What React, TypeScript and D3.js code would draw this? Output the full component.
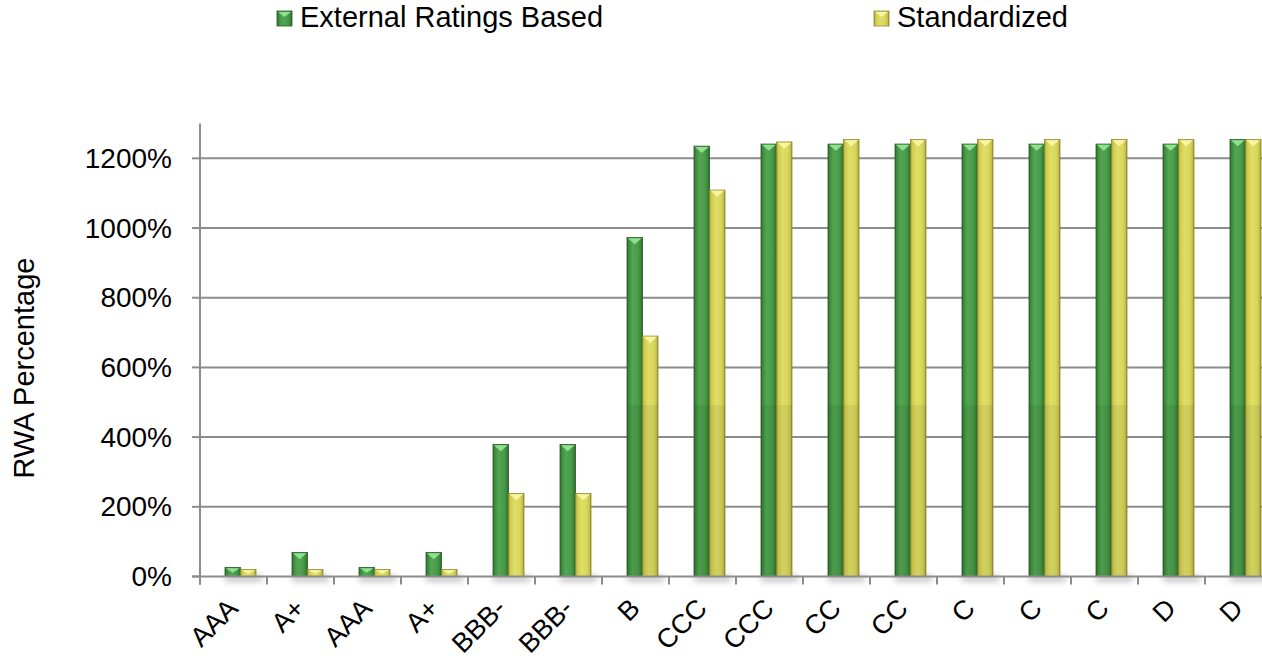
import React from "react";
import * as d3 from "d3";

const categories = ["AAA", "A+", "AAA", "A+", "BBB-", "BBB-", "B", "CCC", "CCC", "CC", "CC", "C", "C", "C", "D", "D"];
const externalRatingsBased = [26, 69, 26, 69, 379, 379, 973, 1235, 1241, 1241, 1241, 1241, 1241, 1241, 1241, 1254];
const standardized = [20, 20, 20, 20, 238, 238, 690, 1109, 1247, 1254, 1254, 1254, 1254, 1254, 1254, 1254];
const yTicks = [0, 200, 400, 600, 800, 1000, 1200];
const seriesNames = ["External Ratings Based", "Standardized"];
const seriesKeys = ["erb", "std"];

const W = 1262;
const H = 659;
const FONT = "'Liberation Sans', Arial, sans-serif";

export default function App() {
  const left = 200;
  const catW = 67;
  const x = d3
    .scaleBand<number>()
    .domain(d3.range(categories.length))
    .range([left, left + catW * categories.length])
    .padding(0);
  const xs = d3.scaleBand<string>().domain(seriesKeys).range([25, 56]).padding(0);
  const y = d3.scaleLinear().domain([0, 1300]).range([576.5, 123.5]);
  const base = y(0);

  const palette: Record<string, { grad: string; tri: string; stroke: string }> = {
    erb: { grad: "url(#gGreen)", tri: "#8fe08f", stroke: "#2a5a2a" },
    std: { grad: "url(#gYellow)", tri: "#f7f5a2", stroke: "#8f8a30" },
  };

  const bars: { key: string; x0: number; w: number; top: number }[] = [];
  categories.forEach((_, i) => {
    [externalRatingsBased[i], standardized[i]].forEach((v, s) => {
      const key = seriesKeys[s];
      bars.push({ key, x0: (x(i) as number) + (xs(key) as number), w: xs.bandwidth(), top: y(v) });
    });
  });

  const split = 405;

  return (
    <svg
      width={W}
      height={H}
      style={{ position: "absolute", left: 0, top: 0, background: "#fff" }}
      fontFamily={FONT}
    >
      <defs>
        <linearGradient id="gGreen" x1="0" x2="1" y1="0" y2="0">
          <stop offset="0%" stopColor="#2c6a2c" />
          <stop offset="12%" stopColor="#3d8c3d" />
          <stop offset="35%" stopColor="#52a652" />
          <stop offset="70%" stopColor="#4a9c4a" />
          <stop offset="90%" stopColor="#3a863a" />
          <stop offset="100%" stopColor="#285a28" />
        </linearGradient>
        <linearGradient id="gYellow" x1="0" x2="1" y1="0" y2="0">
          <stop offset="0%" stopColor="#a39d36" />
          <stop offset="12%" stopColor="#cfcc50" />
          <stop offset="40%" stopColor="#e0de66" />
          <stop offset="75%" stopColor="#d8d65c" />
          <stop offset="90%" stopColor="#c4c04a" />
          <stop offset="100%" stopColor="#948e30" />
        </linearGradient>
        <filter id="blur" x="-50%" y="-200%" width="200%" height="500%">
          <feGaussianBlur stdDeviation="3" />
        </filter>
      </defs>

      {/* legend */}
      {seriesNames.map((name, s) => {
        const lx = s === 0 ? 277 : 874;
        const key = seriesKeys[s];
        return (
          <g key={name}>
            <rect x={lx} y={11} width={15} height={15} fill={palette[key].grad} stroke={palette[key].stroke} strokeWidth={0.8} />
            <polygon points={`${lx + 1},${12} ${lx + 14},${12} ${lx + 7.5},${17}`} fill={palette[key].tri} />
            <text x={lx + 23} y={27} fontSize={29} fill="#000">
              {name}
            </text>
          </g>
        );
      })}

      {/* gridlines */}
      {yTicks.slice(1).map((t) => (
        <line key={t} x1={left} x2={W} y1={y(t)} y2={y(t)} stroke="#8c8c8c" strokeWidth={2} />
      ))}

      {/* shadows */}
      {categories.map((_, i) => (
        <rect
          key={"sh" + i}
          x={(x(i) as number) + 25}
          y={base - 1}
          width={xs.bandwidth() * 2 + 6}
          height={6}
          fill="#000"
          opacity={0.25}
          filter="url(#blur)"
        />
      ))}

      {/* bars */}
      {bars.map((b, i) => {
        const p = palette[b.key];
        const h = base - b.top;
        const triH = Math.min(6, h / 2);
        return (
          <g key={"b" + i}>
            <rect x={b.x0} y={b.top} width={b.w} height={h} fill={p.grad} stroke={p.stroke} strokeWidth={0.8} />
            {b.top < split && (
              <rect x={b.x0} y={split} width={b.w} height={base - split} fill="#000" opacity={0.06} />
            )}
            <polygon
              points={`${b.x0 + 1},${b.top + 0.8} ${b.x0 + b.w - 1},${b.top + 0.8} ${b.x0 + b.w / 2},${b.top + 0.8 + triH}`}
              fill={p.tri}
            />
          </g>
        );
      })}

      {/* axes */}
      <line x1={left} x2={left} y1={y(1300)} y2={base + 8} stroke="#8c8c8c" strokeWidth={2} />
      <line x1={left - 8} x2={W} y1={base} y2={base} stroke="#8c8c8c" strokeWidth={2} />
      {yTicks.map((t) => (
        <g key={"yt" + t}>
          <line x1={left - 8} x2={left} y1={y(t)} y2={y(t)} stroke="#8c8c8c" strokeWidth={2} />
          <text x={172} y={y(t)} dy="0.34em" textAnchor="end" fontSize={28} fill="#000">
            {t}%
          </text>
        </g>
      ))}
      {d3.range(categories.length + 1).map((i) => {
        const xx = left + i * catW;
        return <line key={"xt" + i} x1={xx} x2={xx} y1={base} y2={base + 8} stroke="#8c8c8c" strokeWidth={2} />;
      })}
      {categories.map((c, i) => {
        const cx = (x(i) as number) + x.bandwidth() / 2 + 6;
        const cy = 610;
        return (
          <text
            key={"xl" + i}
            x={cx}
            y={cy}
            transform={`rotate(-45 ${cx} ${cy})`}
            textAnchor="end"
            fontSize={27}
            fill="#000"
          >
            {c}
          </text>
        );
      })}

      {/* axis title */}
      <text transform="translate(34,368) rotate(-90)" textAnchor="middle" fontSize={29} fill="#000">
        RWA Percentage
      </text>
    </svg>
  );
}
